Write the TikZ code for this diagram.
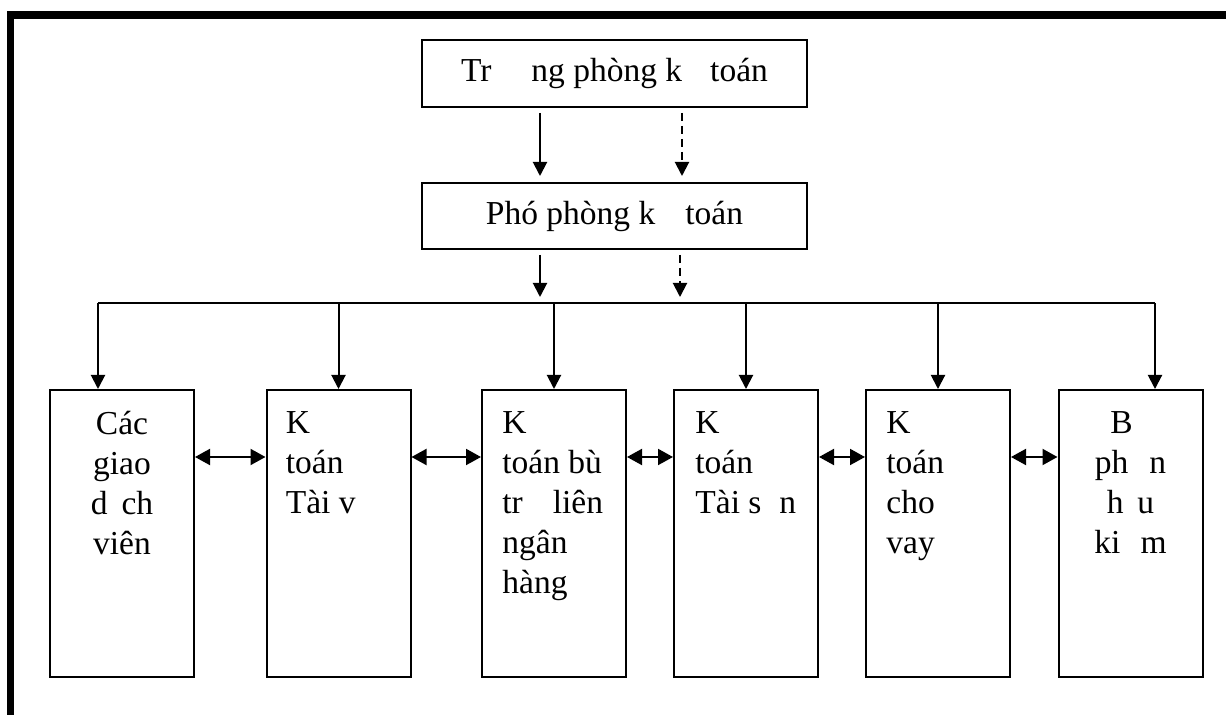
\documentclass[tikz,border=0pt]{standalone}
\usepackage{fontspec}
\setmainfont{Liberation Serif}
\usetikzlibrary{arrows.meta}
\begin{document}
\begin{tikzpicture}[x=0.5pt,y=-0.5pt,
  box/.style={draw, line width=1pt, rectangle, inner sep=0pt},
  topbox/.style={box, minimum width=192.5pt, minimum height=33pt, font=\fontsize{16.75}{20}\selectfont},
  unitbox/.style={box, minimum width=72pt, minimum height=143.5pt},
  txt/.style={inner sep=0pt, font=\fontsize{16.75}{20}\selectfont},
  arr/.style={line width=1pt, -{Triangle[length=7pt,width=7pt]}},
  dasharr/.style={arr, dash pattern=on 4pt off 2.5pt},
  dbl/.style={line width=1pt, {Triangle[length=7.5pt,width=8pt]}-{Triangle[length=7.5pt,width=8pt]}},
  conn/.style={line width=1pt}]
\useasboundingbox (0,0) rectangle (1226,715);
% frame
\fill (7,11) rectangle (1226,19);
\fill (7,11) rectangle (14,715);
% top boxes
\node[topbox, minimum height=33.5pt] (top) at (614.5,73.5) {Tr\hspace{20pt}ng phòng k\hspace{14pt}toán};
\node[topbox] (pho) at (614.5,216) {Phó phòng k\hspace{15pt}toán};
% bottom boxes
\node[unitbox] (b1) at (122,533.5) {};
\node[unitbox] (b2) at (338.5,533.5) {};
\node[unitbox] (b3) at (554,533.5) {};
\node[unitbox] (b4) at (746,533.5) {};
\node[unitbox] (b5) at (938,533.5) {};
\node[unitbox] (b6) at (1130.5,533.5) {};
% texts
\node[txt, align=center, anchor=north] (t1) at ([yshift=-11pt]b1.north) {Các\\giao\\d\hspace{7pt}ch\\viên};
\node[txt, align=left, anchor=north west] (t2) at ([xshift=10pt,yshift=-11pt]b2.north west) {K\\toán\\Tài v};
\node[txt, align=left, anchor=north west] (t3) at ([xshift=10.5pt,yshift=-11pt]b3.north west) {K\\toán bù\\tr\hspace{15pt}liên\\ngân\\hàng};
\node[txt, align=left, anchor=north west] (t4) at ([xshift=11pt,yshift=-11pt]b4.north west) {K\\toán\\Tài s\hspace{9pt}n};
\node[txt, align=left, anchor=north west] (t5) at ([xshift=10.5pt,yshift=-11pt]b5.north west) {K\\toán\\cho\\vay};
\node[txt, align=center, anchor=north] (t6) at ([yshift=-11pt]b6.north) {B\hspace*{9pt}\\ph\hspace{10.5pt}n\\h\hspace{7pt}u\\ki\hspace{10pt}m};
% arrows top -> pho
\draw[arr, shorten <=2.5pt, shorten >=3pt] ([xshift=-37.25pt]top.south) -- ([xshift=-37.25pt]pho.north);
\draw[dasharr, shorten <=2.5pt, shorten >=3pt] ([xshift=33.75pt]top.south) -- ([xshift=33.75pt]pho.north);
% bus
\coordinate (busL) at (98,303);
\coordinate (busR) at (1155,303);
\draw[arr, shorten <=2.5pt, shorten >=3pt] ([xshift=-37.25pt]pho.south) -- ([xshift=-37.25pt]pho.south |- busL);
\draw[dasharr, shorten <=2.5pt, shorten >=3pt] ([xshift=32.75pt]pho.south) -- ([xshift=32.75pt]pho.south |- busL);
\draw[conn] (busL) -- (busR);
\draw[arr] (busL) -- (busL |- b1.north);
\draw[arr] (b2.north |- busL) -- (b2.north);
\draw[arr] (b3.north |- busL) -- (b3.north);
\draw[arr] (b4.north |- busL) -- (b4.north);
\draw[arr] (b5.north |- busL) -- (b5.north);
\draw[arr] (busR) -- (busR |- b6.north);
% double arrows
\draw[dbl] ([yshift=38.25pt]b1.east) -- ([yshift=38.25pt]b2.west);
\draw[dbl] ([yshift=38.25pt]b2.east) -- ([yshift=38.25pt]b3.west);
\draw[dbl] ([yshift=38.25pt]b3.east) -- ([yshift=38.25pt]b4.west);
\draw[dbl] ([yshift=38.25pt]b4.east) -- ([yshift=38.25pt]b5.west);
\draw[dbl] ([yshift=38.25pt]b5.east) -- ([yshift=38.25pt]b6.west);
\end{tikzpicture}
\end{document}
